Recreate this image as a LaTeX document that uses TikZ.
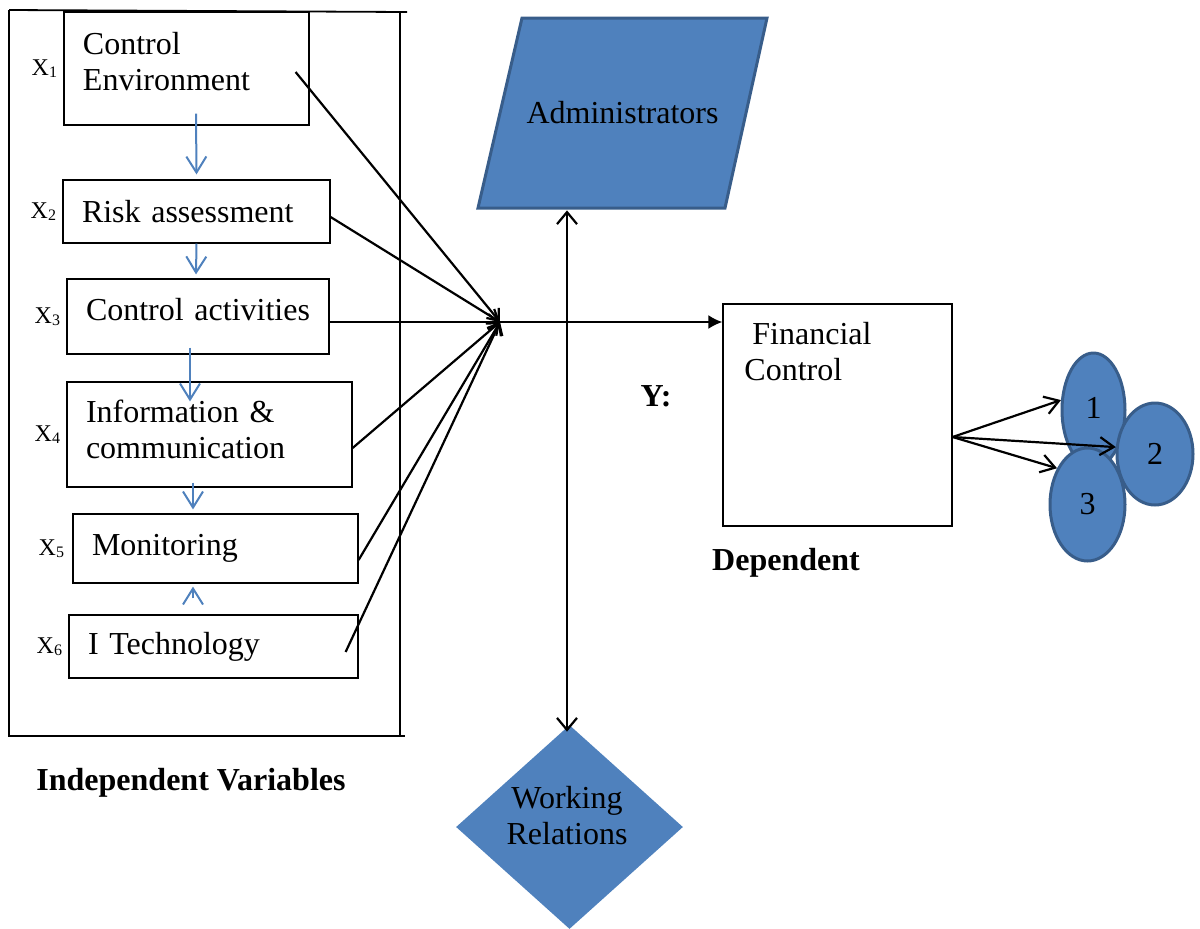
\documentclass[tikz,border=0pt]{standalone}
\usepackage{fontspec}
\setmainfont{Liberation Serif}
\usetikzlibrary{positioning, shapes.geometric, arrows.meta}
\definecolor{fillblue}{HTML}{4F81BD}
\definecolor{edgeblue}{HTML}{385D8A}
\newcommand{\xsub}[1]{{\fontsize{12}{14}\selectfont X\raisebox{-0.8pt}{\fontsize{8}{9}\selectfont #1}}}
\tikzset{
  txt/.style={font=\fontsize{16}{18}\selectfont},
  varbox/.style={txt, draw, line width=0.6pt, align=left, inner xsep=9.5pt, inner ysep=0pt},
  xlab/.style={inner sep=0pt},
  bluearrow/.style={draw=fillblue, line width=1pt, -{Straight Barb[length=8pt,width=10pt]}},
  toarrow/.style={line width=1.1pt, -{Straight Barb[length=5pt,width=8pt]}},
  outarrow/.style={line width=1.1pt, -{Straight Barb[length=7pt,width=9pt]}},
  blob/.style={ellipse, txt, fill=fillblue, draw=edgeblue, line width=1.5pt, inner sep=0pt}
}
\begin{document}
\begin{tikzpicture}[x=0.5pt, y=-0.5pt]
\useasboundingbox (0,0) rectangle (1200,928);
% frame of the independent variables
\draw [line width=0.9pt] (9,10) -- (407,12);
\draw [line width=0.9pt] (9,10) -- (9,736) -- (405,736);
\draw [line width=0.9pt] (400,11) -- (400,737);
% the six boxes
\node [varbox, text width=103.5pt, minimum height=56.5pt, text depth=25.5pt] (x1) at (186.5,68.5) {Control\\Environment};
\node [varbox, text width=114.5pt, minimum height=31.5pt] (x2) at (196.5,211.5) {Risk assessment};
\node [varbox, text width=112pt, minimum height=37.5pt, text depth=7pt] (x3) at (198,316.5) {Control activities};
\node [varbox, text width=123.5pt, minimum height=52.5pt, text depth=23.5pt] (x4) at (209.5,434.5) {Information \&\\communication};
\node [varbox, text width=123.5pt, minimum height=34.5pt] (x5) at (215.5,548.5) {Monitoring};
\node [varbox, text width=125.5pt, minimum height=31.5pt] (x6) at (213.5,646.5) {I Technology};
\node [xlab, left=3pt of x1] (lx1) {\xsub{1}};
\node [xlab, left=3pt of x2] (lx2) {\xsub{2}};
\node [xlab, left=3pt of x3] (lx3) {\xsub{3}};
\node [xlab, left=3pt of x4] (lx4) {\xsub{4}};
\node [xlab, left=4pt of x5] (lx5) {\xsub{5}};
\node [xlab, left=3pt of x6] (lx6) {\xsub{6}};
% blue links between boxes
\draw [bluearrow] ([xshift=4.75pt,yshift=6pt]x1.south) -- ([yshift=2.5pt]x2.north);
\draw [bluearrow] ([yshift=0pt]x2.south) -- ([xshift=-1pt,yshift=2pt]x3.north);
\draw [bluearrow] ([xshift=-4pt,yshift=3.5pt]x3.south) -- ([xshift=-9.75pt,yshift=-10pt]x4.north);
\draw [bluearrow] ([xshift=-8.25pt,yshift=2.5pt]x4.south) -- ([xshift=-11.25pt,yshift=2pt]x5.north);
\draw [bluearrow, shorten <=8pt] ([xshift=-10.25pt]x6.north) -- ([xshift=-11.25pt,yshift=-1.5pt]x5.south);
% everything meets here
\coordinate (hub) at (500,322);
\node [draw, line width=0.6pt, minimum width=114.5pt, minimum height=111pt, inner sep=0pt] (fin) at (837.5,415) {};
\node [txt, align=left, anchor=west, inner sep=0pt] (fintxt) at (744,352) {\hspace{4pt}Financial\\Control};
\draw [toarrow] ([xshift=-7pt,yshift=-1.75pt]x1.east) -- (hub);
\draw [toarrow] ([yshift=-2.75pt]x2.east) -- (hub);
\draw [toarrow] ([yshift=-2.75pt]x3.east) -- (hub);
\draw [toarrow] ([yshift=-6.75pt]x4.east) -- (hub);
\draw [toarrow] ([yshift=-5.75pt]x5.east) -- (hub);
\draw [toarrow] ([xshift=-6.5pt,yshift=-2.75pt]x6.east) -- (hub);
\draw [line width=1.1pt, -{Latex[length=7pt,width=7pt]}] (hub) -- (fin.west |- hub);
% administrators and working relations
\draw [fill=fillblue, draw=edgeblue, line width=1.5pt] (478,208) -- (522,18) -- (767,18) -- (725,208) -- cycle;
\node [txt, minimum height=95pt, inner sep=0pt] (adm) at (622.5,113) {Administrators};
\node [diamond, fill=fillblue, inner sep=0pt, minimum width=113.5pt, minimum height=102pt] (wr) at (569.5,827) {};
\node [txt, align=center] (wrtxt) at (567,816) {Working\\Relations};
\draw [line width=1.1pt, {Straight Barb[length=6pt,width=10pt]}-{Straight Barb[length=6pt,width=10pt]}] ([xshift=-1.25pt,yshift=-1pt]wr.north |- adm.south) -- ([xshift=-1.25pt,yshift=-3.5pt]wr.north);
% labels
\node [font=\fontsize{16}{18}\selectfont\bfseries] (ylab) at (656,396) {Y:};
\node [font=\fontsize{16}{18}\selectfont\bfseries] (dep) at (786,563) {Dependent};
\node [font=\fontsize{16}{18}\selectfont\bfseries] (indep) at (191,783) {Independent Variables};
% the three measures
\node [blob, minimum width=31.5pt, minimum height=57pt] (e1) at (1093.5,410) {\raisebox{2.5pt}{1}};
\node [blob, minimum width=37.5pt, minimum height=56.5pt] (e3) at (1087.5,504.5) {3};
\node [blob, minimum width=38pt, minimum height=51pt] (e2) at (1155,454) {2};
\coordinate (fo) at ([yshift=-11pt]fin.east);
\draw [outarrow] (fo) -- (e1.163);
\draw [outarrow] (fo) -- (e2.170);
\draw [outarrow] (fo) -- (e3.130);
\end{tikzpicture}
\end{document}
